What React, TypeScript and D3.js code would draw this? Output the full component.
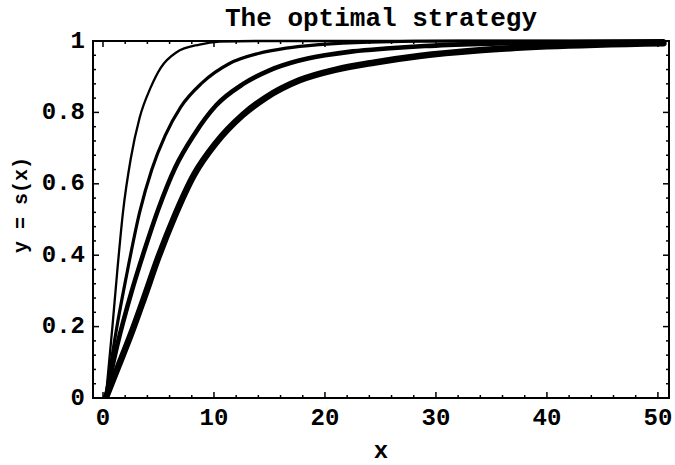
import React from "react";
import * as d3 from "d3";

// Strategy curves s(x), thinnest to thickest
const curveA: [number, number][] = [
  [0.25, 0], [0.85, 0.2], [1.3, 0.36], [1.8, 0.52], [2.5, 0.67], [3.3, 0.785],
  [4.3, 0.87], [5.2, 0.925], [6.6, 0.968], [8.7, 0.99], [10.5, 0.998],
  [14, 1], [50.5, 1],
];
const curveB: [number, number][] = [
  [0.25, 0], [1.2, 0.19], [2.1, 0.34], [3.3, 0.52], [4.4, 0.64], [5.6, 0.735],
  [7.0, 0.815], [8.9, 0.882], [11.4, 0.937], [14, 0.965], [16.5, 0.98],
  [19.5, 0.99], [24, 0.997], [32, 1], [50.5, 1],
];
const curveC: [number, number][] = [
  [0.25, 0], [1.3, 0.15], [2.6, 0.3], [3.8, 0.42], [5.0, 0.53], [6.5, 0.645],
  [8.2, 0.737], [10.2, 0.82], [12.6, 0.879], [15, 0.918], [17.5, 0.944],
  [20, 0.96], [22.5, 0.971], [25.5, 0.979], [29, 0.986], [34, 0.992],
  [40, 0.996], [50.5, 0.999],
];
const curveD: [number, number][] = [
  [0.25, 0], [1.4, 0.09], [2.6, 0.185], [3.7, 0.28], [5.0, 0.395], [6.4, 0.505],
  [8.2, 0.625], [10.2, 0.715], [12.6, 0.793], [14.7, 0.842], [17.7, 0.89],
  [21, 0.92], [24.5, 0.94], [28.5, 0.958], [33.9, 0.974], [40, 0.985],
  [50.5, 0.994],
];
const curves = [curveA, curveB, curveC, curveD];
const strokeWidths = [2.3, 3.2, 4.6, 6.5];

const xTicks = [0, 10, 20, 30, 40, 50];
const yTicks = [0, 0.2, 0.4, 0.6, 0.8, 1];
const yTickLabels = ["0", "0.2", "0.4", "0.6", "0.8", "1"];

const W = 675;
const H = 465;
const left = 93;
const right = 669;
const top = 41;
const bottom = 398;
const FONT = "'Liberation Mono', 'DejaVu Sans Mono', monospace";

export default function App() {
  const x = d3.scaleLinear().domain([-0.9, 51]).range([left, right]);
  const y = d3.scaleLinear().domain([0, 1]).range([bottom, top]);

  const line = d3
    .line<[number, number]>()
    .x((d) => x(d[0]))
    .y((d) => y(d[1]))
    .curve(d3.curveMonotoneX);

  const xMinor = d3.range(0, 51, 2).filter((v) => v % 10 !== 0);
  const yMinor = d3.range(0, 1.0001, 0.04).filter(
    (v) => Math.abs(v * 5 - Math.round(v * 5)) > 1e-6
  );
  const major = 6;
  const minor = 3;

  return (
    <svg
      width={W}
      height={H}
      style={{ position: "absolute", left: 0, top: 0, background: "#fff" }}
    >
      <defs>
        <clipPath id="plotArea">
          <rect x={left} y={top - 4} width={right - left} height={bottom - top + 4} />
        </clipPath>
      </defs>

      <text
        x={(left + right) / 2}
        y={26}
        textAnchor="middle"
        fontFamily={FONT}
        fontWeight="bold"
        fontSize={26}
      >
        The optimal strategy
      </text>

      <g clipPath="url(#plotArea)" fill="none" stroke="#000" strokeLinecap="round" strokeLinejoin="round">
        {curves.map((c, i) => (
          <path key={i} d={line(c) ?? ""} strokeWidth={strokeWidths[i]} />
        ))}
      </g>

      {/* frame */}
      <rect
        x={left}
        y={top}
        width={right - left}
        height={bottom - top}
        fill="none"
        stroke="#000"
        strokeWidth={2}
      />

      {/* ticks on all four sides, pointing inward */}
      <g stroke="#000" strokeWidth={1.5}>
        {xTicks.map((t) => (
          <g key={"xt" + t}>
            <line x1={x(t)} x2={x(t)} y1={bottom} y2={bottom - major} />
            <line x1={x(t)} x2={x(t)} y1={top} y2={top + major} />
          </g>
        ))}
        {xMinor.map((t) => (
          <g key={"xm" + t}>
            <line x1={x(t)} x2={x(t)} y1={bottom} y2={bottom - minor} />
            <line x1={x(t)} x2={x(t)} y1={top} y2={top + minor} />
          </g>
        ))}
        {yTicks.map((t) => (
          <g key={"yt" + t}>
            <line x1={left} x2={left + major} y1={y(t)} y2={y(t)} />
            <line x1={right} x2={right - major} y1={y(t)} y2={y(t)} />
          </g>
        ))}
        {yMinor.map((t) => (
          <g key={"ym" + t}>
            <line x1={left} x2={left + minor} y1={y(t)} y2={y(t)} />
            <line x1={right} x2={right - minor} y1={y(t)} y2={y(t)} />
          </g>
        ))}
      </g>

      <g fontFamily={FONT} fontWeight="bold" fontSize={24} fill="#000">
        {xTicks.map((t) => (
          <text key={"xl" + t} x={x(t)} y={425} textAnchor="middle">
            {t}
          </text>
        ))}
        {yTicks.map((t, i) => (
          <text
            key={"yl" + t}
            x={85}
            y={y(t)}
            textAnchor="end"
            dominantBaseline="central"
          >
            {yTickLabels[i]}
          </text>
        ))}
      </g>

      <text
        x={(left + right) / 2}
        y={458}
        textAnchor="middle"
        fontFamily={FONT}
        fontWeight="bold"
        fontSize={24}
      >
        x
      </text>
      <text
        transform={`translate(27, ${205}) rotate(-90)`}
        textAnchor="middle"
        fontFamily={FONT}
        fontWeight="bold"
        fontSize={20}
      >
        y = s(x)
      </text>
    </svg>
  );
}
